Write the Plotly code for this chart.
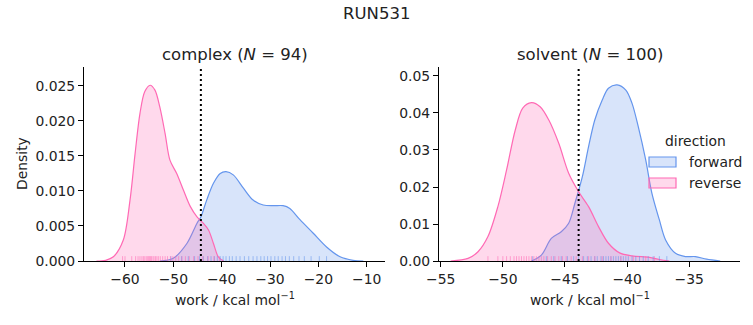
import plotly.graph_objects as go
from plotly.subplots import make_subplots

# ---------------- data ----------------
suptitle = "RUN531"
panel_titles = ["complex (<i>N</i> = 94)", "solvent (<i>N</i> = 100)"]
directions = ["forward", "reverse"]

# complex: KDE curves
complex_fwd_x = [-52.8, -50.0, -47.2, -45.1, -44.3, -43.1, -41.7, -40.3, -39.1, -37.6, -35.5, -33.5,
                 -31.4, -29.3, -27.3, -25.9, -23.8, -21.1, -18.3, -15.5, -12.8, -10.7]
complex_fwd_y = [0.0, 0.0004, 0.0025, 0.0054, 0.0063, 0.0087, 0.0111, 0.0125, 0.01276, 0.0123, 0.0104, 0.0087,
                 0.0080, 0.0079, 0.0079, 0.0075, 0.0059, 0.0040, 0.0020, 0.0006, 0.0001, 0.0]
complex_rev_x = [-65.9, -64.0, -62.4, -60.35, -58.96, -57.9, -56.9, -55.9, -54.8, -53.8, -52.8, -51.7,
                 -50.7, -49.3, -47.9, -46.5, -45.1, -43.8, -42.7, -41.7, -40.7, -39.6]
complex_rev_y = [0.0, 0.0001, 0.0006, 0.0030, 0.0087, 0.0154, 0.0211, 0.0242, 0.0251, 0.0244, 0.0220, 0.0182,
                 0.0144, 0.0125, 0.0101, 0.0078, 0.0063, 0.0054, 0.0044, 0.0025, 0.0006, 0.0]

# solvent: KDE curves
solvent_fwd_x = [-47.7, -46.9, -46.1, -45.3, -44.7, -44.2, -43.6, -43.1, -42.6, -42.0, -41.5, -40.8,
                 -40.1, -39.6, -39.1, -38.5, -38.0, -37.4, -36.9, -36.1, -35.3, -34.5, -33.6, -32.5]
solvent_fwd_y = [0.0, 0.0016, 0.0061, 0.0079, 0.0102, 0.0156, 0.0228, 0.0309, 0.0381, 0.0435, 0.0467, 0.0476,
                 0.0462, 0.0426, 0.0363, 0.0273, 0.0183, 0.0111, 0.0057, 0.0021, 0.0012, 0.0012, 0.0005, 0.0]
solvent_rev_x = [-54.2, -52.8, -52.0, -51.2, -50.4, -49.7, -49.0, -48.4, -47.7, -47.0, -46.3, -45.5,
                 -44.7, -43.9, -43.1, -42.3, -41.5, -40.6, -39.6, -38.2, -37.4, -36.6]
solvent_rev_y = [0.0, 0.0007, 0.0025, 0.0066, 0.0147, 0.0246, 0.0354, 0.0413, 0.0428, 0.0417, 0.0381, 0.0318,
                 0.0237, 0.0187, 0.0147, 0.0093, 0.0048, 0.0022, 0.0014, 0.0010, 0.0004, 0.0]

# rug (individual work values, estimated)
complex_fwd_rug = [-50.5, -48.3, -46.9, -45.6, -44.6, -43.8, -42.9, -42.2, -41.5, -40.9, -40.3, -39.7,
                   -39.1, -38.4, -37.8, -37.0, -36.2, -35.3, -34.4, -33.5, -32.7, -31.9, -31.2, -30.5,
                   -29.8, -29.0, -28.3, -27.5, -26.8, -26.0, -25.1, -24.0, -22.9, -21.5, -19.8, -18.3]
complex_rev_rug = [-60.5, -60.0, -58.6, -57.8, -57.3, -56.9, -56.5, -56.2, -55.9, -55.6, -55.3, -55.1,
                   -54.9, -54.7, -54.5, -54.2, -54.0, -53.7, -53.4, -53.1, -52.7, -52.2, -51.7, -51.2,
                   -50.6, -50.1, -49.5, -48.9, -48.2, -47.5, -46.7, -45.8, -44.9, -43.9, -42.8, -41.6, -40.5]
solvent_fwd_rug = [-47.6, -46.5, -45.9, -45.3, -44.8, -44.3, -43.9, -43.5, -43.2, -42.9, -42.6, -42.4,
                   -42.1, -41.9, -41.7, -41.5, -41.3, -41.1, -40.9, -40.7, -40.5, -40.3, -40.1, -39.9,
                   -39.6, -39.3, -39.0, -38.7, -38.3, -37.9, -37.4, -36.8]
solvent_rev_rug = [-51.2, -50.4, -50.0, -49.7, -49.4, -49.1, -48.9, -48.7, -48.5, -48.3, -48.1, -47.9,
                   -47.7, -47.5, -47.3, -47.1, -46.9, -46.7, -46.4, -46.1, -45.8, -45.5, -45.2, -44.9,
                   -44.5, -44.1, -43.6, -43.1, -42.6, -42.0, -41.3, -40.5, -39.5, -38.5, -37.8]

# vertical reference lines (dotted)
ref_lines = [-44.3, -43.9]

# axes
x_ranges = [[-68.48, -6.21], [-55.14, -30.91]]
y_ranges = [[0, 0.02771], [0, 0.05243]]
x_ticks = [[-60, -50, -40, -30, -20, -10], [-55, -50, -45, -40, -35]]
y_ticks = [[0.000, 0.005, 0.010, 0.015, 0.020, 0.025], [0.00, 0.01, 0.02, 0.03, 0.04, 0.05]]
y_tickformats = [".3f", ".2f"]
x_label = "work / kcal mol<sup>−1</sup>"
y_label = "Density"

# ---------------- styling ----------------
W, H = 753, 325
FONT = "DejaVu Sans"
TXT = "#222222"
line_colors = {"forward": "#6495ED", "reverse": "#FF69B4"}
fill_colors = {"forward": "rgba(100,149,237,0.25)", "reverse": "rgba(255,105,180,0.25)"}

# pixel layout
ax_px = [(84, 385), (439, 740)]
ax_top, ax_bot = 67, 261

def px_x(p):
    return p / W

def px_y(p):
    return (H - p) / H

fig = make_subplots(rows=1, cols=2)

panels = [
    {"fwd": (complex_fwd_x, complex_fwd_y, complex_fwd_rug),
     "rev": (complex_rev_x, complex_rev_y, complex_rev_rug)},
    {"fwd": (solvent_fwd_x, solvent_fwd_y, solvent_fwd_rug),
     "rev": (solvent_rev_x, solvent_rev_y, solvent_rev_rug)},
]

for i, panel in enumerate(panels):
    col = i + 1
    rug_h = 0.025 * (y_ranges[i][1] - y_ranges[i][0])
    for key, name in (("fwd", "forward"), ("rev", "reverse")):
        xs, ys, rug = panel[key]
        fig.add_trace(go.Scatter(
            x=xs, y=ys, mode="lines", name=name,
            line=dict(color=line_colors[name], width=1.2, shape="spline", smoothing=0.9),
            fill="tozeroy", fillcolor=fill_colors[name],
            showlegend=False, hoverinfo="skip"), row=1, col=col)
    for key, name in (("fwd", "forward"), ("rev", "reverse")):
        rug = panel[key][2]
        rx, ry = [], []
        for v in rug:
            rx += [v, v, None]
            ry += [0, rug_h, None]
        fig.add_trace(go.Scatter(
            x=rx, y=ry, mode="lines",
            line=dict(color=line_colors[name], width=1),
            opacity=0.55, showlegend=False, hoverinfo="skip"), row=1, col=col)
    fig.add_vline(x=ref_lines[i], line=dict(color="black", width=2, dash="2px,3px"), row=1, col=col)

axis_common = dict(showline=True, linecolor="black", linewidth=1, ticks="outside", ticklen=5,
                   tickwidth=1, tickcolor="black", showgrid=False, zeroline=False, automargin=False,
                   tickfont=dict(family=FONT, size=13.9, color=TXT))

for i in range(2):
    xa = "xaxis" if i == 0 else "xaxis2"
    ya = "yaxis" if i == 0 else "yaxis2"
    fig.layout[xa].update(domain=[px_x(ax_px[i][0]), px_x(ax_px[i][1])], range=x_ranges[i],
                          tickvals=x_ticks[i], **axis_common)
    fig.layout[ya].update(domain=[px_y(ax_bot), px_y(ax_top)], range=y_ranges[i],
                          tickvals=y_ticks[i], tickformat=y_tickformats[i], **axis_common)

annotations = []
annotations.append(dict(text=suptitle, x=0.5, y=px_y(13), xref="paper", yref="paper",
                        xanchor="center", yanchor="middle", showarrow=False,
                        font=dict(family=FONT, size=16.5, color=TXT)))
for i in range(2):
    cx = (ax_px[i][0] + ax_px[i][1]) / 2
    annotations.append(dict(text=panel_titles[i], x=px_x(cx), y=px_y(54), xref="paper", yref="paper",
                            xanchor="center", yanchor="middle", showarrow=False,
                            font=dict(family=FONT, size=16.5, color=TXT)))
    annotations.append(dict(text=x_label, x=px_x(cx), y=px_y(299), xref="paper", yref="paper",
                            xanchor="center", yanchor="middle", showarrow=False,
                            font=dict(family=FONT, size=13.9, color=TXT)))
annotations.append(dict(text=y_label, x=px_x(22), y=px_y((ax_top + ax_bot) / 2), xref="paper", yref="paper",
                        xanchor="center", yanchor="middle", textangle=-90, showarrow=False,
                        font=dict(family=FONT, size=13.9, color=TXT)))

# legend (drawn like matplotlib's)
annotations.append(dict(text="direction", x=px_x(695), y=px_y(141), xref="paper", yref="paper",
                        xanchor="center", yanchor="middle", showarrow=False,
                        font=dict(family=FONT, size=13.9, color=TXT)))
shapes = []
leg_rows = [(157, 167, 162), (178, 188, 183)]
for name, (t, b, c) in zip(directions, leg_rows):
    shapes.append(dict(type="rect", xref="paper", yref="paper",
                       x0=px_x(649), x1=px_x(676), y0=px_y(b), y1=px_y(t),
                       line=dict(color=line_colors[name], width=1.2), fillcolor=fill_colors[name]))
    annotations.append(dict(text=name, x=px_x(687), y=px_y(c), xref="paper", yref="paper",
                            xanchor="left", yanchor="middle", showarrow=False,
                            font=dict(family=FONT, size=13.9, color=TXT)))

fig.update_layout(width=W, height=H, margin=dict(l=0, r=0, t=0, b=0, autoexpand=False),
                  paper_bgcolor="white", plot_bgcolor="white", showlegend=False,
                  annotations=annotations)
for s in shapes:
    fig.add_shape(**s)

fig.write_html("out.html")
